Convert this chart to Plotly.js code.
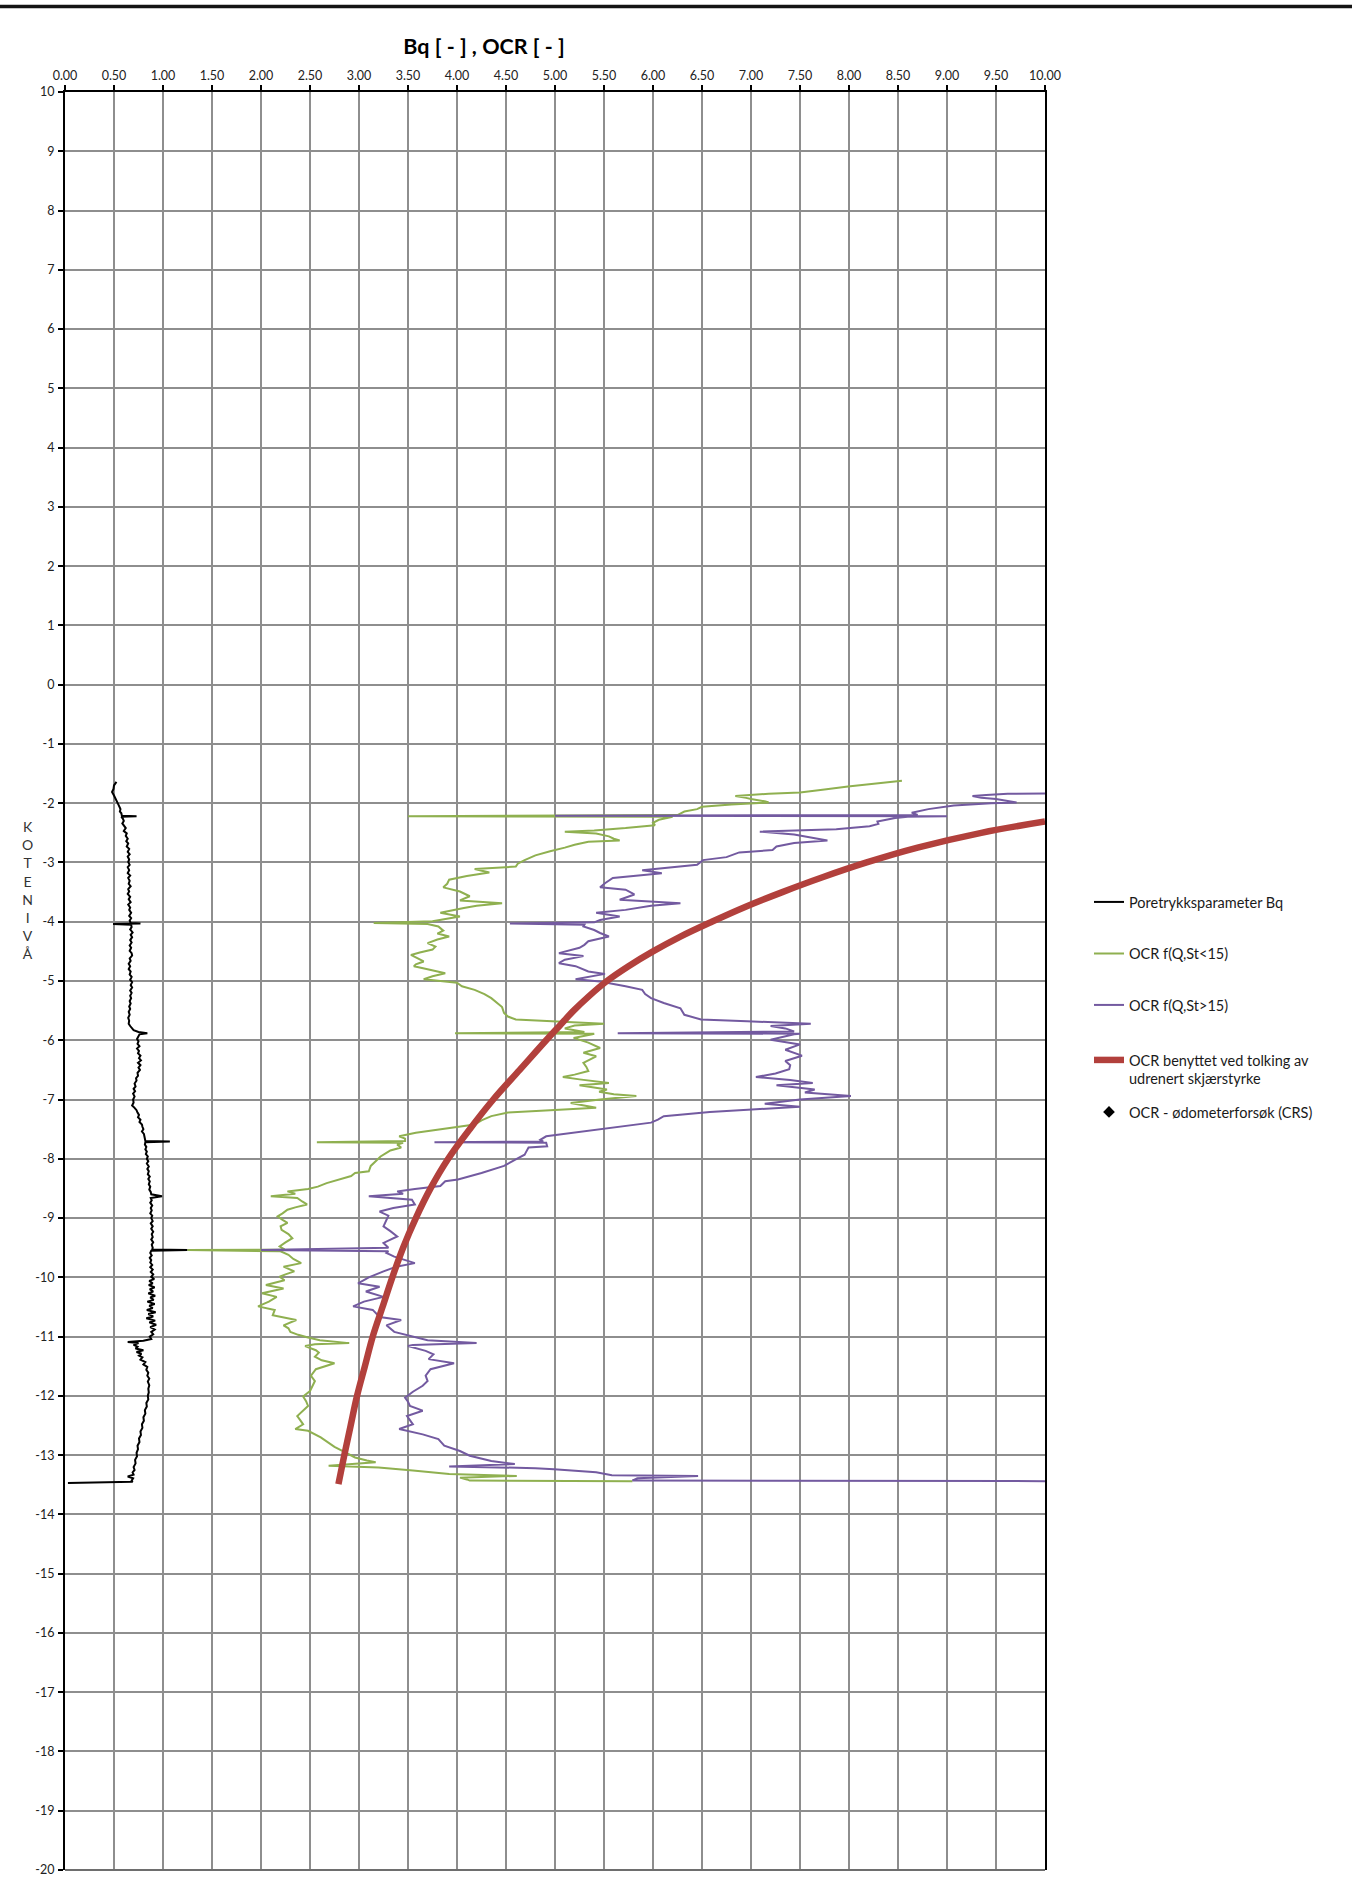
<!DOCTYPE html>
<html>
<head>
<meta charset="utf-8">
<script src="https://cdn.plot.ly/plotly-3.0.1.min.js"></script>
<style>
  html, body { margin: 0; padding: 0; background: #ffffff; }
  #chart { width: 1352px; height: 1888px; }
</style>
</head>
<body>
<div id="chart"></div>
<script>
// ---- Axis ticks ----
const xTickValues = [0, 0.5, 1, 1.5, 2, 2.5, 3, 3.5, 4, 4.5, 5, 5.5, 6, 6.5, 7, 7.5, 8, 8.5, 9, 9.5, 10];
const xTickLabels = ['0.00', '0.50', '1.00', '1.50', '2.00', '2.50', '3.00', '3.50', '4.00', '4.50', '5.00',
                     '5.50', '6.00', '6.50', '7.00', '7.50', '8.00', '8.50', '9.00', '9.50', '10.00'];
const yTickValues = [10, 9, 8, 7, 6, 5, 4, 3, 2, 1, 0, -1, -2, -3, -4, -5, -6, -7, -8, -9, -10,
                     -11, -12, -13, -14, -15, -16, -17, -18, -19, -20];
const yTickLabels = ['10', '9', '8', '7', '6', '5', '4', '3', '2', '1', '0', '-1', '-2', '-3', '-4', '-5',
                     '-6', '-7', '-8', '-9', '-10', '-11', '-12', '-13', '-14', '-15', '-16', '-17', '-18', '-19', '-20'];
const yAxisTitle = 'KOTENIVÅ';
const chartTitle = 'Bq [ - ] , OCR [ - ]';

// ---- Series names ----
const nameBq = 'Poretrykksparameter Bq';
const nameOcrLow = 'OCR f(Q,St<15)';
const nameOcrHigh = 'OCR f(Q,St>15)';
const nameOcrUsed = 'OCR benyttet ved tolking av<br>udrenert skjærstyrke';
const nameOcrLab = 'OCR - ødometerforsøk (CRS)';

// ---- Poretrykksparameter Bq (kote, verdi) ----
const bqDepth = [
  -1.64, -1.70, -1.76, -1.81, -1.87, -1.93, -1.98, -2.04, -2.10, -2.14,
  -2.17, -2.21, -2.22, -2.23, -2.26, -2.30, -2.34, -2.38, -2.42, -2.47,
  -2.51, -2.55, -2.60, -2.64, -2.68, -2.73, -2.77, -2.82, -2.86, -2.90,
  -2.95, -2.99, -3.04, -3.08, -3.13, -3.18, -3.22, -3.26, -3.31, -3.36,
  -3.40, -3.45, -3.49, -3.53, -3.58, -3.62, -3.67, -3.71, -3.76, -3.80,
  -3.85, -3.90, -3.94, -3.98, -4.02, -4.03, -4.04, -4.05, -4.09, -4.13,
  -4.18, -4.22, -4.26, -4.31, -4.35, -4.40, -4.44, -4.49, -4.53, -4.57,
  -4.62, -4.66, -4.71, -4.75, -4.80, -4.84, -4.89, -4.93, -4.98, -5.02,
  -5.07, -5.11, -5.16, -5.20, -5.25, -5.29, -5.34, -5.38, -5.43, -5.47,
  -5.52, -5.57, -5.62, -5.67, -5.72, -5.76, -5.80, -5.83, -5.86, -5.88,
  -5.90, -5.94, -5.98, -6.02, -6.06, -6.10, -6.14, -6.18, -6.22, -6.26,
  -6.30, -6.34, -6.38, -6.42, -6.46, -6.50, -6.55, -6.60, -6.64, -6.68,
  -6.73, -6.78, -6.82, -6.86, -6.90, -6.95, -7.00, -7.05, -7.10, -7.14,
  -7.18, -7.22, -7.26, -7.30, -7.34, -7.38, -7.42, -7.46, -7.50, -7.54,
  -7.58, -7.62, -7.66, -7.70, -7.71, -7.72, -7.76, -7.80, -7.84, -7.88,
  -7.92, -7.96, -8.00, -8.04, -8.08, -8.13, -8.17, -8.21, -8.26, -8.30,
  -8.34, -8.38, -8.43, -8.47, -8.52, -8.56, -8.60, -8.63, -8.66, -8.70,
  -8.74, -8.79, -8.83, -8.87, -8.92, -8.96, -9.00, -9.05, -9.09, -9.14,
  -9.18, -9.23, -9.27, -9.32, -9.36, -9.41, -9.45, -9.50, -9.53, -9.54,
  -9.55, -9.59, -9.63, -9.67, -9.71, -9.75, -9.79, -9.83, -9.87, -9.91,
  -9.95, -9.99, -10.03, -10.06, -10.10, -10.13, -10.17, -10.20, -10.24, -10.27,
  -10.31, -10.34, -10.38, -10.41, -10.45, -10.48, -10.52, -10.55, -10.59, -10.62,
  -10.66, -10.69, -10.73, -10.76, -10.80, -10.84, -10.88, -10.92, -10.96, -11.00,
  -11.04, -11.07, -11.09, -11.11, -11.14, -11.17, -11.20, -11.23, -11.26, -11.29,
  -11.32, -11.35, -11.39, -11.43, -11.47, -11.51, -11.56, -11.61, -11.66, -11.71,
  -11.76, -11.82, -11.88, -11.94, -12.00, -12.06, -12.12, -12.18, -12.24, -12.30,
  -12.36, -12.42, -12.48, -12.54, -12.60, -12.66, -12.72, -12.78, -12.84, -12.90,
  -12.96, -13.02, -13.08, -13.14, -13.20, -13.25, -13.29, -13.33, -13.36, -13.39,
  -13.43, -13.45, -13.47];
const bqValue = [
  0.525, 0.50, 0.495, 0.48, 0.50, 0.515, 0.53, 0.55, 0.566, 0.56,
  0.575, 0.58, 0.73, 0.575, 0.59, 0.60, 0.585, 0.605, 0.62, 0.60,
  0.63, 0.62, 0.64, 0.625, 0.645, 0.63, 0.655, 0.64, 0.66, 0.64,
  0.655, 0.645, 0.66, 0.64, 0.655, 0.64, 0.665, 0.645, 0.66, 0.65,
  0.67, 0.645, 0.655, 0.64, 0.665, 0.65, 0.67, 0.645, 0.665, 0.655,
  0.675, 0.655, 0.675, 0.66, 0.67, 0.77, 0.49, 0.675, 0.68, 0.665,
  0.69, 0.67, 0.685, 0.665, 0.68, 0.66, 0.675, 0.66, 0.68, 0.685,
  0.66, 0.67, 0.65, 0.665, 0.65, 0.67, 0.66, 0.68, 0.665, 0.685,
  0.67, 0.685, 0.665, 0.68, 0.665, 0.675, 0.66, 0.67, 0.655, 0.665,
  0.65, 0.66, 0.645, 0.655, 0.65, 0.665, 0.68, 0.70, 0.75, 0.84,
  0.76, 0.745, 0.735, 0.75, 0.74, 0.76, 0.735, 0.755, 0.745, 0.77,
  0.755, 0.775, 0.745, 0.77, 0.75, 0.765, 0.74, 0.745, 0.725, 0.73,
  0.71, 0.72, 0.70, 0.715, 0.695, 0.71, 0.695, 0.70, 0.685, 0.71,
  0.73, 0.74, 0.755, 0.745, 0.77, 0.76, 0.785, 0.79, 0.80, 0.785,
  0.805, 0.81, 0.815, 0.82, 1.07, 0.82, 0.815, 0.83, 0.82, 0.835,
  0.825, 0.845, 0.835, 0.85, 0.835, 0.855, 0.84, 0.855, 0.845, 0.865,
  0.85, 0.865, 0.855, 0.87, 0.86, 0.875, 0.88, 0.99, 0.875, 0.885,
  0.87, 0.89, 0.875, 0.885, 0.87, 0.89, 0.88, 0.895, 0.875, 0.895,
  0.88, 0.90, 0.885, 0.895, 0.88, 0.90, 0.885, 0.895, 0.89, 1.25,
  0.88, 0.87, 0.885, 0.865, 0.88, 0.87, 0.89, 0.87, 0.895, 0.875,
  0.90, 0.88, 0.91, 0.86, 0.895, 0.855, 0.915, 0.865, 0.90, 0.85,
  0.92, 0.87, 0.905, 0.84, 0.915, 0.86, 0.895, 0.835, 0.925, 0.85,
  0.90, 0.83, 0.92, 0.86, 0.93, 0.87, 0.915, 0.88, 0.90, 0.865,
  0.88, 0.80, 0.64, 0.75, 0.70, 0.74, 0.72, 0.80, 0.73, 0.78,
  0.755, 0.79, 0.77, 0.82, 0.80, 0.84, 0.83, 0.85, 0.84, 0.86,
  0.845, 0.86, 0.85, 0.855, 0.845, 0.85, 0.83, 0.835, 0.815, 0.82,
  0.80, 0.805, 0.785, 0.79, 0.77, 0.775, 0.755, 0.76, 0.74, 0.745,
  0.73, 0.735, 0.715, 0.72, 0.70, 0.71, 0.69, 0.70, 0.64, 0.695,
  0.68, 0.69, 0.03];

// ---- OCR f(Q,St<15) ----
const ocrLowDepth = [-1.62, -1.66, -1.72, -1.77, -1.82, -1.84, -1.88, -1.91, -1.93, -1.97, -1.99, -2.02, -2.06, -2.10, -2.14,
  -2.20, -2.22, -2.23, -2.28, -2.33, -2.37, -2.42, -2.46, -2.48, -2.51, -2.56, -2.60, -2.63, -2.65, -2.70,
  -2.75, -2.81, -2.88, -2.96, -3.02, -3.07, -3.11, -3.17, -3.23, -3.29, -3.36, -3.42, -3.49, -3.57, -3.64,
  -3.69, -3.73, -3.77, -3.85, -3.91, -3.96, -3.99, -4.02, -4.04, -4.08, -4.15, -4.20, -4.25, -4.30, -4.36,
  -4.42, -4.47, -4.52, -4.56, -4.62, -4.67, -4.72, -4.75, -4.80, -4.87, -4.92, -4.97, -5.03, -5.09, -5.15,
  -5.22, -5.29, -5.36, -5.44, -5.54, -5.60, -5.65, -5.68, -5.72, -5.75, -5.80, -5.86, -5.88, -5.89, -5.90,
  -5.96, -6.04, -6.13, -6.21, -6.27, -6.33, -6.38, -6.45, -6.52, -6.58, -6.62, -6.66, -6.72, -6.76, -6.80,
  -6.83, -6.87, -6.91, -6.94, -6.97, -7.00, -7.06, -7.10, -7.14, -7.18, -7.22, -7.28, -7.35, -7.42, -7.47,
  -7.51, -7.56, -7.62, -7.66, -7.70, -7.72, -7.73, -7.76, -7.81, -7.86, -7.90, -7.96, -8.04, -8.12, -8.21,
  -8.24, -8.29, -8.35, -8.41, -8.47, -8.51, -8.55, -8.59, -8.63, -8.66, -8.72, -8.77, -8.82, -8.86, -8.92,
  -8.97, -9.03, -9.08, -9.14, -9.20, -9.27, -9.34, -9.41, -9.48, -9.53, -9.54, -9.56, -9.62, -9.69, -9.76,
  -9.82, -9.90, -9.95, -9.99, -10.05, -10.13, -10.19, -10.27, -10.33, -10.41, -10.49, -10.55, -10.64, -10.72, -10.81,
  -10.86, -10.92, -10.97, -11.01, -11.06, -11.11, -11.13, -11.16, -11.23, -11.27, -11.34, -11.40, -11.45, -11.55, -11.66,
  -11.75, -11.83, -11.92, -12.01, -12.09, -12.17, -12.26, -12.34, -12.41, -12.48, -12.56, -12.59, -12.70, -12.79, -12.86,
  -12.93, -13.04, -13.09, -13.12, -13.18, -13.21, -13.26, -13.32, -13.35, -13.38, -13.41, -13.43, -13.44];
const ocrLowValue = [8.54, 8.30, 7.99, 7.75, 7.50, 7.18, 6.84, 6.95, 7.00, 7.15, 7.18, 6.80, 6.50, 6.45, 6.32,
  6.25, 3.50, 6.20, 6.06, 6.00, 6.02, 5.72, 5.40, 5.10, 5.42, 5.55, 5.60, 5.66, 5.34, 5.20,
  5.10, 4.95, 4.80, 4.69, 4.62, 4.60, 4.18, 4.33, 4.10, 3.92, 3.90, 3.86, 4.03, 4.13, 4.03,
  4.46, 4.20, 4.07, 3.83, 4.03, 3.85, 3.75, 3.15, 3.70, 3.81, 3.86, 3.80, 3.92, 3.80, 3.70,
  3.78, 3.75, 3.62, 3.53, 3.60, 3.66, 3.58, 3.56, 3.70, 3.88, 3.75, 3.66, 4.00, 4.05, 4.18,
  4.28, 4.35, 4.40, 4.46, 4.48, 4.52, 4.60, 5.03, 5.50, 5.20, 5.10, 5.30, 3.98, 5.40, 5.38,
  5.19, 5.34, 5.46, 5.29, 5.42, 5.35, 5.29, 5.32, 5.34, 5.20, 5.08, 5.25, 5.55, 5.25, 5.40,
  5.53, 5.45, 5.60, 5.83, 5.60, 5.46, 5.16, 5.30, 5.42, 4.95, 4.52, 4.35, 4.25, 4.18, 3.98,
  3.83, 3.58, 3.41, 3.47, 3.47, 2.57, 3.45, 3.39, 3.43, 3.32, 3.28, 3.22, 3.17, 3.12, 3.10,
  2.96, 2.92, 2.80, 2.67, 2.58, 2.48, 2.27, 2.35, 2.10, 2.37, 2.42, 2.47, 2.35, 2.27, 2.22,
  2.17, 2.22, 2.27, 2.20, 2.21, 2.28, 2.32, 2.25, 2.19, 2.24, 1.25, 2.20, 2.28, 2.33, 2.41,
  2.23, 2.34, 2.25, 2.19, 2.24, 2.05, 2.23, 2.01, 2.16, 2.08, 1.97, 2.14, 2.12, 2.36, 2.23,
  2.28, 2.30, 2.38, 2.47, 2.60, 2.90, 2.55, 2.45, 2.56, 2.59, 2.55, 2.62, 2.75, 2.56, 2.51,
  2.55, 2.53, 2.50, 2.43, 2.46, 2.48, 2.42, 2.37, 2.40, 2.43, 2.35, 2.48, 2.61, 2.69, 2.75,
  2.83, 2.96, 3.08, 3.17, 2.69, 3.20, 3.55, 3.92, 4.61, 4.03, 4.10, 4.13, 5.79];

// ---- OCR f(Q,St>15) ----
const ocrHighDepth = [-1.83, -1.84, -1.86, -1.88, -1.91, -1.93, -1.99, -2.00, -2.04, -2.10, -2.16, -2.20, -2.21, -2.22, -2.23,
  -2.25, -2.31, -2.35, -2.39, -2.44, -2.46, -2.48, -2.53, -2.58, -2.63, -2.67, -2.73, -2.79, -2.83, -2.91,
  -2.96, -3.04, -3.10, -3.13, -3.18, -3.22, -3.26, -3.35, -3.42, -3.46, -3.54, -3.63, -3.69, -3.73, -3.80,
  -3.85, -3.91, -3.97, -4.01, -4.03, -4.05, -4.08, -4.14, -4.19, -4.25, -4.33, -4.39, -4.44, -4.53, -4.58,
  -4.64, -4.70, -4.75, -4.84, -4.88, -4.97, -5.01, -5.09, -5.15, -5.22, -5.29, -5.37, -5.46, -5.57, -5.65,
  -5.68, -5.72, -5.76, -5.80, -5.85, -5.88, -5.89, -5.90, -5.99, -6.07, -6.16, -6.26, -6.35, -6.42, -6.49,
  -6.56, -6.62, -6.67, -6.72, -6.76, -6.83, -6.88, -6.94, -7.00, -7.07, -7.12, -7.17, -7.21, -7.28, -7.34,
  -7.39, -7.44, -7.48, -7.56, -7.62, -7.68, -7.71, -7.72, -7.73, -7.79, -7.81, -7.90, -7.93, -8.01, -8.12,
  -8.24, -8.35, -8.38, -8.46, -8.51, -8.55, -8.59, -8.63, -8.69, -8.77, -8.83, -8.89, -8.96, -9.03, -9.14,
  -9.22, -9.31, -9.42, -9.50, -9.54, -9.56, -9.59, -9.65, -9.76, -9.82, -9.90, -10.00, -10.10, -10.16, -10.24,
  -10.33, -10.41, -10.49, -10.55, -10.67, -10.72, -10.81, -10.92, -11.01, -11.06, -11.11, -11.14, -11.16, -11.24, -11.30,
  -11.38, -11.45, -11.55, -11.66, -11.75, -11.83, -11.93, -12.03, -12.10, -12.17, -12.25, -12.34, -12.41, -12.48, -12.56,
  -12.65, -12.73, -12.84, -12.93, -13.01, -13.10, -13.15, -13.19, -13.22, -13.24, -13.29, -13.34, -13.35, -13.39, -13.42,
  -13.43, -13.44];
const ocrHighValue = [10.30, 9.62, 9.40, 9.26, 9.35, 9.50, 9.71, 9.45, 9.07, 8.81, 8.64, 8.70, 5.00, 9.00, 8.60,
  8.47, 8.29, 8.30, 8.21, 7.87, 7.50, 7.09, 7.44, 7.60, 7.78, 7.44, 7.26, 7.22, 6.88, 6.75,
  6.51, 6.45, 6.06, 5.89, 6.09, 5.80, 5.59, 5.51, 5.46, 5.72, 5.81, 5.66, 6.28, 5.98, 5.72,
  5.42, 5.66, 5.46, 5.40, 4.54, 5.30, 5.29, 5.40, 5.46, 5.55, 5.34, 5.30, 5.25, 5.04, 5.29,
  5.10, 5.04, 5.21, 5.34, 5.51, 5.21, 5.46, 5.72, 5.89, 5.92, 5.98, 6.11, 6.28, 6.32, 6.49,
  6.96, 7.61, 7.20, 7.35, 7.44, 5.64, 7.50, 7.44, 7.20, 7.50, 7.35, 7.52, 7.35, 7.40, 7.39,
  7.25, 7.05, 7.40, 7.63, 7.26, 7.65, 7.55, 8.02, 7.50, 7.14, 7.50, 7.01, 6.58, 6.11, 6.05,
  5.98, 5.75, 5.55, 5.16, 4.91, 4.85, 4.88, 3.77, 4.91, 4.92, 4.73, 4.70, 4.69, 4.60, 4.48,
  4.25, 4.01, 3.88, 3.83, 3.57, 3.39, 3.45, 3.10, 3.54, 3.57, 3.35, 3.21, 3.30, 3.28, 3.25,
  3.32, 3.39, 3.25, 3.30, 2.00, 3.30, 3.28, 3.36, 3.57, 3.38, 3.25, 3.10, 2.99, 3.21, 3.07,
  3.25, 3.05, 2.94, 3.14, 3.21, 3.43, 3.28, 3.36, 3.57, 3.70, 4.20, 3.55, 3.50, 3.68, 3.76,
  3.71, 3.97, 3.73, 3.68, 3.70, 3.65, 3.55, 3.47, 3.50, 3.52, 3.65, 3.49, 3.52, 3.55, 3.41,
  3.65, 3.81, 3.87, 4.03, 4.13, 4.35, 4.59, 3.92, 4.80, 4.99, 5.42, 5.58, 6.46, 5.84, 5.80,
  5.79, 10.50];

// ---- OCR used for undrained shear strength ----
const ocrUsedDepth = [-2.31, -2.50, -2.75, -3.00, -3.25, -3.50, -3.75, -4.00, -4.25, -4.50, -4.75, -5.00,
  -5.25, -5.50, -5.75, -6.00, -6.50, -7.00, -7.50, -8.00, -8.50, -9.00, -9.50, -10.00,
  -10.50, -11.00, -11.50, -12.00, -12.50, -13.00, -13.49];
const ocrUsedValue = [10.00, 9.35, 8.70, 8.18, 7.73, 7.32, 6.94, 6.60, 6.28, 6.00, 5.75, 5.53,
  5.35, 5.19, 5.05, 4.91, 4.64, 4.37, 4.13, 3.91, 3.73, 3.58, 3.45, 3.34,
  3.24, 3.14, 3.06, 2.98, 2.915, 2.85, 2.79];

// ---- Oedometer tests (CRS): no results within this profile ----
const ocrLabDepth = [null];
const ocrLabValue = [null];

// ---- Page geometry ----
const W = 1352, H = 1888;
const M = { l: 65, r: 307, t: 92, b: 18 };
const plotW = W - M.l - M.r;
const plotH = H - M.t - M.b;
const px = X => (X - M.l) / plotW;        // page pixel -> paper x
const py = Y => (H - M.b - Y) / plotH;    // page pixel -> paper y

const FONT = 'Lato, "Open Sans", sans-serif';
const gridColor = '#8e8e8e';

const traces = [
  { x: bqValue, y: bqDepth, name: nameBq, type: 'scatter', mode: 'lines',
    line: { color: '#000000', width: 2 }, legend: 'legend' },
  { x: ocrLowValue, y: ocrLowDepth, name: nameOcrLow, type: 'scatter', mode: 'lines',
    line: { color: '#8FB050', width: 2 }, legend: 'legend2' },
  { x: ocrHighValue, y: ocrHighDepth, name: nameOcrHigh, type: 'scatter', mode: 'lines',
    line: { color: '#735AA0', width: 2 }, legend: 'legend3' },
  { x: ocrUsedValue, y: ocrUsedDepth, name: nameOcrUsed, type: 'scatter', mode: 'lines',
    line: { color: '#B2403C', width: 6.5, shape: 'spline', smoothing: 1 }, legend: 'legend4' },
  { x: ocrLabValue, y: ocrLabDepth, name: nameOcrLab, type: 'scatter', mode: 'markers',
    marker: { symbol: 'diamond', size: 9, color: '#000000' }, legend: 'legend5', showlegend: true }
];

function legendAt(Ycenter) {
  return {
    x: px(1089), xanchor: 'left', xref: 'paper',
    y: py(Ycenter), yanchor: 'middle', yref: 'paper',
    bgcolor: 'rgba(0,0,0,0)', borderwidth: 0,
    font: { family: FONT, size: 14.5, color: '#1a1a1a' },
    itemwidth: 30, valign: 'top', itemclick: false, itemdoubleclick: false
  };
}

const axisTickFont = { family: FONT, size: 12.5, color: '#222222' };

const layout = {
  width: W, height: H,
  margin: M,
  paper_bgcolor: '#ffffff', plot_bgcolor: '#ffffff',
  showlegend: true,
  title: {
    text: chartTitle,
    font: { family: FONT, size: 21.5, color: '#000000', weight: 700 },
    x: 484 / W, xref: 'container', xanchor: 'center',
    y: 1 - 46 / H, yref: 'container', yanchor: 'middle'
  },
  xaxis: {
    range: [0, 10], side: 'top', tickmode: 'array', tickvals: xTickValues, ticktext: xTickLabels,
    ticks: 'outside', ticklen: 5, tickwidth: 1.5, tickcolor: '#000000', ticklabelstandoff: 0,
    showline: true, linecolor: '#000000', linewidth: 2,
    showgrid: true, gridcolor: gridColor, gridwidth: 1.6, zeroline: false,
    tickfont: axisTickFont, fixedrange: true
  },
  xaxis2: {
    overlaying: 'x', anchor: 'y', side: 'top', range: [0, 10], tickmode: 'array', tickvals: xTickValues,
    ticks: 'inside', ticklen: 5, tickwidth: 1.5, tickcolor: '#000000',
    showticklabels: false, showgrid: false, showline: false, zeroline: false, fixedrange: true
  },
  yaxis: {
    range: [-20, 10], tickmode: 'array', tickvals: yTickValues, ticktext: yTickLabels,
    ticks: 'outside', ticklen: 5, tickwidth: 1.5, tickcolor: '#000000', ticklabelstandoff: 1,
    showline: true, linecolor: '#000000', linewidth: 2, mirror: true,
    showgrid: true, gridcolor: gridColor, gridwidth: 1.6, zeroline: false,
    tickfont: axisTickFont, fixedrange: true
  },
  legend: legendAt(902),
  legend2: legendAt(953.5),
  legend3: legendAt(1005),
  legend4: legendAt(1069.5),
  legend5: legendAt(1112),
  annotations: [
    { text: yAxisTitle.split('').join('<br>'), xref: 'paper', yref: 'paper',
      x: px(27), y: py(889.7), xanchor: 'center', yanchor: 'middle', showarrow: false,
      align: 'center', font: { family: FONT, size: 14, color: '#333333' } }
  ],
  shapes: [
    // heavy rule across the top of the sheet
    { type: 'line', xref: 'paper', yref: 'paper', x0: px(0), x1: px(W), y0: py(6.5), y1: py(6.5),
      line: { color: '#141414', width: 3.5 }, layer: 'above' },
    // bottom frame line of the plot area
    { type: 'line', xref: 'paper', yref: 'paper', x0: 0, x1: 1, y0: 0, y1: 0,
      line: { color: '#6e6e6e', width: 2 }, layer: 'above' }
  ]
};

Plotly.newPlot('chart', traces, layout, { displayModeBar: false });
</script>
</body>
</html>
